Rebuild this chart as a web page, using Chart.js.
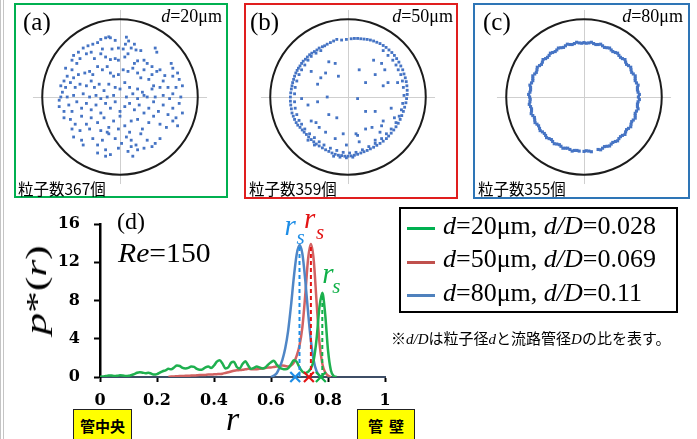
<!DOCTYPE html>
<html>
<head>
<meta charset="utf-8">
<script src="https://cdn.jsdelivr.net/npm/chart.js@4.4.1/dist/chart.umd.min.js"></script>
<style>
body{margin:0;background:#fff;}
#page{position:relative;width:697px;height:439px;overflow:hidden;background:#fff;font-family:"Liberation Serif",serif;color:#000;}
.t{position:absolute;white-space:nowrap;line-height:1;}
.jp{font-family:"Noto Sans CJK JP",sans-serif;}
.box{position:absolute;box-sizing:border-box;border:2px solid;}
canvas{position:absolute;}
.yel{position:absolute;box-sizing:border-box;border:1.5px solid #222;background:#ffff00;font-family:"Noto Sans CJK JP",sans-serif;font-weight:bold;font-size:15px;line-height:1;text-align:center;padding-top:8px;}
.lg{position:absolute;left:407px;width:28px;height:3px;}
</style>
</head>
<body>
<div id="page">

<div style="position:absolute;left:0;top:0;width:1px;height:439px;background:#c4c4c4"></div>
<div style="position:absolute;left:3px;top:0;width:1px;height:439px;background:#c4c4c4"></div>

<div class="box" style="left:14px;top:3px;width:214px;height:195px;border-color:#00b050"></div>
<div class="box" style="left:244px;top:3px;width:214px;height:196px;border-color:#e01e1e"></div>
<div class="box" style="left:473px;top:3px;width:217px;height:196px;border-color:#2e75b6"></div>

<canvas id="ca" width="200" height="200" style="left:20px;top:-3px"></canvas>
<canvas id="cb" width="200" height="200" style="left:248px;top:-3px"></canvas>
<canvas id="cc" width="200" height="200" style="left:484px;top:-3px"></canvas>

<div class="t" style="left:23px;top:9px;font-size:25px">(a)</div>
<div class="t" style="right:475px;top:7px;font-size:18px"><i>d</i>=20μm</div>
<div class="t jp" style="left:18px;top:181px;font-size:15.5px">粒子数367個</div>

<div class="t" style="left:250px;top:9px;font-size:25px">(b)</div>
<div class="t" style="right:244px;top:7px;font-size:18px"><i>d</i>=50μm</div>
<div class="t jp" style="left:249px;top:181px;font-size:15.5px">粒子数359個</div>

<div class="t" style="left:483px;top:9px;font-size:25px">(c)</div>
<div class="t" style="right:14px;top:7px;font-size:18px"><i>d</i>=80μm</div>
<div class="t jp" style="left:478px;top:181px;font-size:15.5px">粒子数355個</div>

<canvas id="main" width="400" height="239" style="left:0;top:200px"></canvas>

<div class="t" style="left:36px;top:290px;font-size:30px;transform:translate(-50%,-50%) rotate(-90deg) scaleX(1.45)"><i>p</i>*(<i>r</i>)</div>
<div class="t" style="left:226px;top:402px;font-size:34px"><i>r</i></div>
<div class="t" style="left:117px;top:209px;font-size:24px">(d)</div>
<div class="t" style="left:118px;top:240px;font-size:27px;transform:scaleX(1.1);transform-origin:0 0"><i>Re</i>=150</div>

<div class="yel" style="left:73px;top:409px;width:59px;height:40px">管中央</div>
<div class="yel" style="left:357px;top:409px;width:58px;height:40px;letter-spacing:6px;text-indent:6px">管壁</div>

<div class="box" style="left:399px;top:207px;width:279px;height:106px;border-color:#000"></div>
<div class="lg" style="top:227px;background:#00b050"></div>
<div class="lg" style="top:261px;background:#c0504d"></div>
<div class="lg" style="top:294px;background:#4f81bd"></div>
<div class="t" style="left:443px;top:213px;font-size:26px"><i>d</i>=20μm, <i>d/D</i>=0.028</div>
<div class="t" style="left:443px;top:246px;font-size:26px"><i>d</i>=50μm, <i>d/D</i>=0.069</div>
<div class="t" style="left:443px;top:280px;font-size:26px"><i>d</i>=80μm, <i>d/D</i>=0.11</div>

<div class="t jp" style="left:391px;top:330px;font-size:15px">※<i style="font-family:'Liberation Serif'">d/D</i>は粒子径<i style="font-family:'Liberation Serif'">d</i>と流路管径<i style="font-family:'Liberation Serif'">D</i>の比を表す。</div>

</div>

<script>
// scatter positions: offsets from tube centre, wall radius = WALL_R
const WALL_R=243;
const VIEW=300;
const CROSS=272;

const PTS_A=[[-35,188],[-60,180],[-45,185],[-30,185],[-15,177],[20,187],[27,175],[17,165],[45,165],
[-115,153],[-100,160],[-85,165],[-70,170],[-55,150],[-25,150],[-5,153],[10,150],[35,153],[50,147],[65,145],[110,153],[115,140],
[-130,140],[-145,130],[-125,120],[-150,115],[-135,105],[-105,135],[-90,140],[-80,120],[-60,135],[-45,125],[-30,117],[-15,120],[-5,115],[15,125],[25,135],[55,113],[45,105],[75,115],[85,105],[100,95],[125,85],[160,105],[165,90],[140,67],[180,75],[185,55],[195,35],
[-170,90],[-150,85],[-165,65],[-175,50],[-145,60],[-130,70],[-110,75],[-95,80],[-85,70],[-70,95],[-55,85],[-40,95],[-30,75],[-20,65],[-5,70],[10,85],[25,80],[40,90],[55,75],[65,60],[75,85],[90,55],[100,70],[115,80],[135,50],[105,35],[125,30],[150,30],[165,65],[175,30],
[-185,35],[-170,30],[-180,15],[-155,45],[-140,30],[-125,40],[-105,35],[-90,50],[-80,30],[-65,40],[-50,20],[-35,40],[-15,30],[0,25],[15,45],[30,30],[40,10],[55,25],[70,15],[85,0],[100,25],[110,0],[135,5],[155,-5],[165,10],[190,0],
[-185,0],[-190,-10],[-165,0],[-145,5],[-115,10],[-95,0],[-75,5],[-60,-5],[-40,0],[-20,5],[20,0],[55,-5],[75,5],
[-190,-30],[-175,-45],[-160,-25],[-150,-45],[-135,-15],[-120,-35],[-105,-20],[-90,-40],[-75,-25],[-60,-50],[-45,-20],[-30,-35],[-15,-15],[0,-45],[15,-30],[30,-20],[45,-40],[60,-25],[75,-50],[90,-35],[105,-15],[120,-45],[135,-25],[150,-55],[165,-35],[185,-20],[195,-50],[175,-65],
[-175,-65],[-155,-70],[-140,-85],[-120,-60],[-105,-85],[-90,-65],[-70,-80],[-50,-65],[-35,-95],[-20,-75],[0,-60],[15,-90],[35,-75],[55,-70],[70,-100],[90,-80],[105,-60],[125,-85],[145,-95],[165,-75],[180,-90],
[-150,-100],[-125,-105],[-95,-100],[-60,-105],[-40,-110],[-5,-100],[30,-110],
[-145,-125],[-115,-150],[-120,-135],[-85,-130],[-70,-150],[-55,-135],[-35,-115],[-15,-130],[5,-145],[20,-125],[35,-135],[50,-150],[65,-115],[85,-135],[110,-145],
[-70,-175],[-45,-165],[-30,-180],[-5,-160],[25,-170],[40,-185],[55,-165],[75,-160],[100,-155],[125,-130],[-45,-185],[35,-155]];

const PTS_B=[[-35,180],[-45,175],[-55,170],[-65,165],[-73,160],[-80,157],[-90,153],[-97,147],[-105,142],[-113,137],[-120,132],[-127,125],[-133,118],[-140,112],[-145,105],[-150,97],[-155,90],[-159,83],[-163,75],[-167,65],[-170,55],[-173,45],[-175,35],[-177,25],[-179,13],[-180,0],[-180,-13],[-179,-25],[-177,-37],[-175,-50],[-171,-60],[-167,-70],[-162,-80],[-157,-88],[-150,-95],[-143,-103],[-137,-110],[-130,-117],[-123,-125],[-115,-133],[-107,-140],[-99,-147],[-90,-153],[-80,-159],[-70,-165],[-60,-170],[-50,-175],[-40,-179],[-30,-182],[-20,-183],[-10,-185],[0,-185],[10,-184],[20,-182],[30,-179],[40,-175],[50,-171],[60,-167],[70,-162],[80,-157],[90,-151],[100,-145],[110,-138],[120,-130],[127,-122],[135,-113],[143,-103],[150,-93],[157,-82],[163,-70],[168,-58],[173,-45],[177,-32],[181,-18],[183,-5],[185,8],[185,21],[184,35],[182,48],[179,60],[175,72],[171,85],[165,97],[159,109],[152,120],[145,130],[137,139],[128,147],[119,155],[110,161],[100,167],[90,171],[80,175],[70,178],[60,180],[50,181],[40,182],[30,183],[20,183],[10,182],[-5,180],[-20,178],
[-85,145],[-100,137],[-115,127],[-125,115],[-135,100],[-145,85],[-153,70],[-160,50],[-165,30],[-167,10],[-167,-15],[-165,-35],[-160,-55],[-153,-73],[-145,-85],[-135,-100],[-120,-115],[-105,-127],[-90,-140],[-75,-150],[-55,-160],[-35,-167],[-15,-173],[5,-175],[25,-173],[45,-165],[65,-155],[85,-145],[105,-130],[120,-115],[135,-100],[150,-80],[160,-60],[167,-40],[171,-20],[175,5],[173,30],[170,50],[165,70],[157,85],[150,100],[140,115],[125,130],[110,145],
[-45,-185],[-25,-188],[-5,-190],[15,-188],[-105,-150],[-125,-135],
[-60,110],[-70,75],[-85,60],[-95,40],[-115,80],[-40,105],[-30,65],[-65,0],[-95,-15],[-125,-25],[-145,-5],[-60,-55],[-35,-65],[30,-5],[35,85],[55,45],[85,70],[105,105],[115,85],[80,115],[125,45],[110,35],[155,45],[135,-35],[85,-45],[110,-75],[105,-90],[75,-95],[55,-100],[25,-115],[-15,-115],[-40,-130],[-70,-110],[-90,-95],[-100,-80],[-115,-75],[-5,-150],[35,-140],[85,-135],[100,-110],[145,-65],[55,-45],[30,-120]];

const PTS_C=[[170,0],[169,15],[167,30],[164,44],[160,58],[154,72],[147,85],[139,98],[130,109],[120,120],[109,130],[98,139],[85,147],[72,154],[58,160],[44,164],[30,167],[15,169],
[173,8],[167,22],[169,37],[160,51],[160,66],[149,77],[146,93],[133,102],[128,117],[114,124],[105,137],[90,142],[80,153],[64,155],[52,165],[37,164],[23,171],[7,168],
[0,170],[-15,169],[-30,167],[-44,164],[-58,160],[-72,154],[-85,147],[-98,139],[-109,130],[-120,120],[-130,109],[-139,98],[-147,85],[-154,72],[-160,58],[-164,44],[-167,30],[-169,15],
[-173,8],[-167,22],[-169,37],[-160,51],[-160,66],[-149,77],[-146,93],[-133,102],[-128,117],[-114,124],[-105,137],[-90,142],[-80,153],[-64,155],[-52,165],[-37,164],[-23,171],[-7,168],
[-170,0],[-169,-15],[-167,-30],[-164,-44],[-160,-58],[-154,-72],[-147,-85],[-139,-98],[-130,-109],[-120,-120],[-109,-130],[-98,-139],[-85,-147],[-72,-154],[-58,-160],[-44,-164],[-30,-167],[-15,-169],
[-168,-7],[-171,-23],[-164,-37],[-165,-52],[-155,-64],[-153,-80],[-142,-90],[-137,-105],[-124,-114],[-117,-127],[-102,-133],[-93,-146],[-77,-149],[-66,-160],[-51,-160],[-37,-169],[-22,-167],
[169,-15],[167,-30],[164,-44],[160,-58],[154,-72],[147,-85],[139,-98],[130,-109],[120,-120],[109,-130],[98,-139],[85,-147],[72,-154],[58,-160],[44,-164],[15,-169],[0,-170],
[173,-8],[167,-22],[169,-37],[160,-51],[160,-66],[149,-77],[146,-93],[133,-102],[128,-117],[114,-124],[105,-137],[90,-142],[80,-153],[64,-155],[52,-165],[23,-171],[7,-168]];

// p*(r) curves, r = 0 .. 0.83
const R=[0,0.01,0.02,0.03,0.04,0.05,0.06,0.07,0.08,0.09,0.10,0.11,0.12,0.13,0.14,0.15,0.16,0.17,0.18,0.19,
0.20,0.21,0.22,0.23,0.24,0.25,0.26,0.27,0.28,0.29,0.30,0.31,0.32,0.33,0.34,0.35,0.36,0.37,0.38,0.39,
0.40,0.41,0.42,0.43,0.44,0.45,0.46,0.47,0.48,0.49,0.50,0.51,0.52,0.53,0.54,0.55,0.56,0.57,0.58,0.59,
0.60,0.61,0.62,0.63,0.64,0.65,0.66,0.67,0.68,0.69,0.70,0.71,0.72,0.73,0.74,0.75,0.76,0.77,0.78,0.79,
0.80,0.81,0.82,0.83];

const P20=[0.02,0.05,0.1,0.15,0.15,0.1,0.12,0.18,0.15,0.1,0.12,0.2,0.3,0.45,0.5,0.45,0.4,0.45,0.35,0.25,
0.3,0.45,0.6,0.7,0.85,0.8,1.0,1.2,1.15,0.95,0.9,0.95,1.1,1.05,0.85,0.75,0.8,1.0,1.1,0.95,
1.2,1.6,1.75,1.4,0.9,1.0,1.5,1.6,1.05,0.9,1.35,1.65,1.2,0.85,0.95,1.1,1.0,0.9,1.0,1.3,
1.55,1.7,1.3,1.0,0.85,0.8,0.9,1.3,1.75,1.6,1.0,0.55,0.4,0.55,0.9,1.8,4.0,7.3,8.8,6.6,
2.8,0.7,0.1,0];

const P50=[null,null,null,null,null,null,null,null,null,null,null,null,null,null,null,null,null,null,null,null,
null,null,null,null,0,0.05,0.05,0.08,0.1,0.1,0.12,0.12,0.15,0.15,0.18,0.2,0.2,0.22,0.25,0.25,
0.28,0.3,0.32,0.35,0.42,0.5,0.58,0.65,0.7,0.72,0.75,0.8,0.85,0.82,0.8,0.82,0.85,0.9,0.95,1.0,
1.0,1.05,1.1,1.15,1.2,1.15,1.1,1.2,1.5,2.2,3.3,5.2,8.5,12.3,13.9,12.2,7.8,3.6,1.4,0.5,
0.15,0,null,null];

const P80=[null,null,null,null,null,null,null,null,null,null,null,null,null,null,null,null,null,null,null,null,
null,null,null,null,null,null,null,null,null,null,null,null,null,null,null,null,null,null,null,null,
null,null,null,null,null,null,null,null,null,null,null,null,null,null,null,null,null,null,null,null,
0,0.15,0.4,1.0,1.8,3.0,4.8,7.4,10.4,12.8,13.8,12.9,10.2,6.8,3.8,1.7,0.6,0.15,0,null,
null,null,null,null];

// r_s markers (20, 50, 80 um) and peak positions
const RS=[0.775,0.733,0.685];
const PEAK_R=[0.78,0.74,0.70];
const PEAK=[8.7,13.9,13.7];
const X_TICKS=[0,0.2,0.4,0.6,0.8,1];
const Y_TICKS=[0,4,8,12,16];

const LINE_COL=['#1fb04f','#d26262','#4f86c6'];
const MARK_COL=['#10b048','#e31414','#1e8de6'];
// r offset x, r offset y, s offset x, s offset y (px from peak)
const LABEL_OFF=[[0,-11,10,-1],[-7,-16,5,-5],[-15,-11,-3,-2]];

const tubePlugin={
id:'tube',
beforeDatasetsDraw(chart){
let ctx=chart.ctx, x=chart.scales.x, y=chart.scales.y;
let cx=x.getPixelForValue(0), cy=y.getPixelForValue(0);
let rad=x.getPixelForValue(WALL_R)-cx;
ctx.save();
ctx.strokeStyle='#cfcfcf';
ctx.lineWidth=1;
ctx.beginPath();
ctx.moveTo(x.getPixelForValue(-CROSS),cy+0.5);
ctx.lineTo(x.getPixelForValue(CROSS),cy+0.5);
ctx.moveTo(cx+0.5,y.getPixelForValue(CROSS));
ctx.lineTo(cx+0.5,y.getPixelForValue(-CROSS));
ctx.stroke();
ctx.strokeStyle='#1c1c1c';
ctx.lineWidth=2;
ctx.beginPath();
ctx.arc(cx,cy,rad,0,Math.PI*2);
ctx.stroke();
ctx.restore();
}
};

function ringChart(id,pts,size){
new Chart(document.getElementById(id),{
type:'scatter',
data:{datasets:[{data:pts.map(p=>({x:p[0],y:p[1]})),pointStyle:'rect',pointRadius:size,backgroundColor:'#4674c4',borderWidth:0}]},
options:{animation:false,responsive:false,devicePixelRatio:1,layout:{padding:0},
scales:{x:{type:'linear',min:-VIEW,max:VIEW,display:false},y:{type:'linear',min:-VIEW,max:VIEW,display:false}},
plugins:{legend:{display:false},tooltip:{enabled:false}}},
plugins:[tubePlugin]
});
}

ringChart('ca',PTS_A,2.0);
ringChart('cb',PTS_B,2.0);
ringChart('cc',PTS_C,2.2);

const rsPlugin={
id:'rs',
afterDatasetsDraw(chart){
let ctx=chart.ctx, x=chart.scales.x, y=chart.scales.y;
ctx.save();
ctx.textBaseline='alphabetic';
ctx.textAlign='left';
for(let i=0;i<3;i++){
let px=x.getPixelForValue(PEAK_R[i]), py=y.getPixelForValue(PEAK[i]);
let o=LABEL_OFF[i];
ctx.fillStyle=MARK_COL[i];
ctx.font='italic 29px "Liberation Serif"';
ctx.fillText('r',px+o[0],py+o[1]);
ctx.font='italic 21px "Liberation Serif"';
ctx.fillText('s',px+o[2],py+o[3]);
}
ctx.restore();
}
};

let curves=[P20,P50,P80].map((vals,i)=>({
type:'line',
data:R.map((r,k)=>({x:r,y:vals[k]})),
borderColor:LINE_COL[i],
borderWidth:2.5,
pointRadius:0,
cubicInterpolationMode:'monotone',
spanGaps:false,
order:[2,4,3][i]
}));

let dashes=PEAK_R.map((r,i)=>({
type:'line',
data:[{x:r,y:0},{x:r,y:PEAK[i]}],
borderColor:MARK_COL[i],
borderWidth:2,
borderDash:[4,3],
pointRadius:0,
order:1
}));

let marks={
type:'scatter',
data:RS.map(r=>({x:r,y:0})),
pointStyle:'crossRot',
pointRadius:7,
pointBorderWidth:2.2,
pointBorderColor:MARK_COL,
borderColor:MARK_COL,
clip:false,
order:0
};

new Chart(document.getElementById('main'),{
type:'line',
data:{datasets:[marks,...dashes,...curves]},
options:{
animation:false,responsive:false,devicePixelRatio:1,
layout:{padding:{top:24,right:15,left:0,bottom:0}},
scales:{
x:{type:'linear',min:0,max:1,
afterFit(s){s.height=62;},
afterBuildTicks(s){s.ticks=X_TICKS.map(v=>({value:v}));},
border:{color:'#3d4d66',width:2},
grid:{drawOnChartArea:false,drawTicks:true,tickLength:5,tickColor:'#000',tickWidth:2},
ticks:{color:'#000',padding:9,maxRotation:0,font:{family:'DejaVu Serif',weight:'bold',size:16},callback:v=>String(v)}
},
y:{type:'linear',min:0,max:16,
afterFit(s){s.width=100;},
afterBuildTicks(s){s.ticks=Y_TICKS.map(v=>({value:v}));},
border:{color:'#000',width:2.5},
grid:{drawOnChartArea:false,drawTicks:true,tickLength:6,tickColor:'#000',tickWidth:2},
ticks:{color:'#000',padding:14,font:{family:'DejaVu Serif',weight:'bold',size:16}}
}
},
plugins:{legend:{display:false},tooltip:{enabled:false}}
},
plugins:[rsPlugin]
});
</script>
</body>
</html>
